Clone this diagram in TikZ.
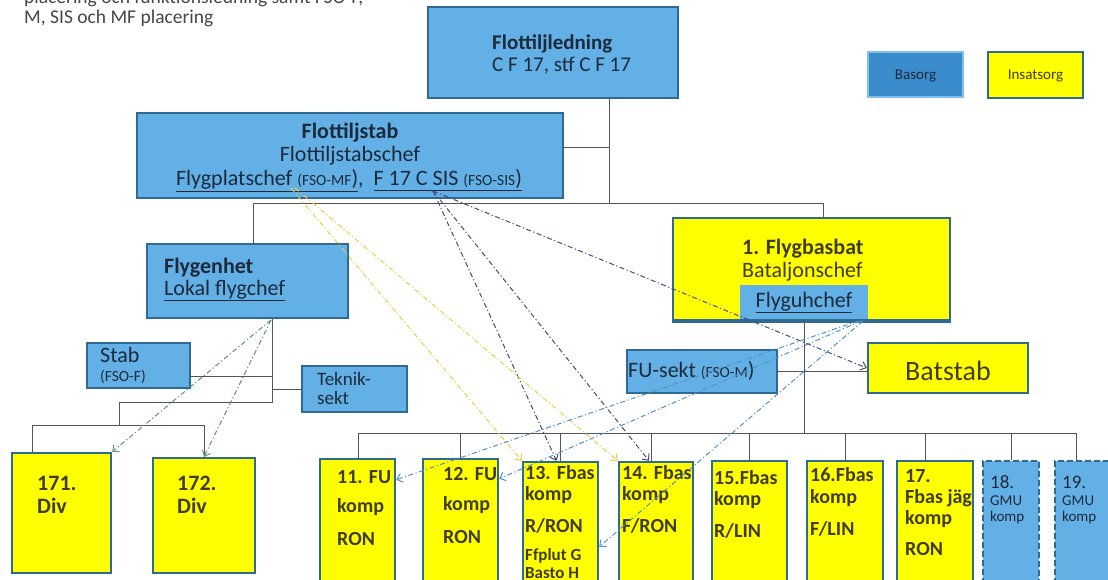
\documentclass[tikz,border=0pt]{standalone}
\usepackage{fontspec}
\setmainfont{Carlito}
\usetikzlibrary{arrows.meta,calc}
\definecolor{boxblue}{RGB}{98,176,230}
\definecolor{bordblue}{RGB}{46,106,146}
\definecolor{legblue}{RGB}{58,140,204}
\definecolor{leglight}{RGB}{130,192,236}
\definecolor{yel}{RGB}{255,255,0}
\definecolor{bluetxt}{RGB}{28,42,58}
\definecolor{yeltxt}{RGB}{64,60,20}
\definecolor{conncol}{RGB}{85,85,85}
\definecolor{sisarr}{RGB}{72,72,130}
\definecolor{mfarr}{RGB}{240,205,70}
\definecolor{uharr}{RGB}{80,145,200}
\definecolor{fgarr}{RGB}{90,150,110}
\definecolor{titlegrey}{RGB}{70,70,70}
\newcommand{\fsz}[1]{\fontsize{#1}{#1}\selectfont}
\newcommand{\smc}[1]{{\fsz{15.5}#1}}
\begin{document}
\begin{tikzpicture}[x=1pt,y=-1pt,
  bluebox/.style={draw=bordblue, line width=2.5pt, fill=boxblue, inner sep=0pt},
  yelbox/.style={draw=bordblue, line width=2.5pt, fill=yel, inner sep=0pt},
  gmubox/.style={draw=bordblue, line width=2.5pt, fill=boxblue, inner sep=0pt, dash pattern=on 6pt off 3pt},
  conn/.style={draw=conncol, line width=0.9pt},
  dd/.style={line width=1pt, dash pattern=on 5pt off 2.5pt on 1.2pt off 2.5pt, -{Straight Barb[length=5pt,width=9pt]}},
  lbl/.style={inner sep=0pt, anchor=base west},
  lblc/.style={inner sep=0pt, anchor=base},
  bt/.style={lbl, text=bluetxt, font=\fsz{22}},
  yt/.style={lbl, text=yeltxt, font=\fsz{20}\bfseries},
]
\useasboundingbox (0,0) rectangle (1108,580);
\clip (0,0) rectangle (1108,580);

% title
\node[lbl, text=titlegrey, font=\fsz{19.5}] (title1) at (24,4) {placering och funktionsledning samt FSO-F,};
\node[lbl, text=titlegrey, font=\fsz{19.5}] (title2) at (24,24) {M, SIS och MF placering};

% legend
\node[draw=leglight, line width=2pt, fill=legblue, minimum width=95pt, minimum height=45pt, inner sep=0pt] (leg1) at (915.5,74.5) {};
\node[lblc, text=bluetxt, font=\fsz{15}] (leg1t) at (915.5,80) {Basorg};
\node[yelbox, minimum width=95pt, minimum height=46pt] (leg2) at (1035.5,75) {};
\node[lblc, text=yeltxt, font=\fsz{15}] (leg2t) at (1035.5,80) {Insatsorg};

% boxes
\node[bluebox, minimum width=250pt, minimum height=91pt] (fl) at (553,52.5) {};
\node[bluebox, minimum width=426pt, minimum height=85pt] (fst) at (350,155.5) {};
\node[bluebox, minimum width=201pt, minimum height=74pt] (fg) at (247.5,281) {};
\node[yelbox, minimum width=277pt, minimum height=102pt] (fb) at (811.5,269) {};
\node[fill=boxblue, minimum width=128pt, minimum height=34pt, inner sep=0pt] (fu) at (804,302) {};
\draw[bordblue, line width=2.5pt] (fb.south west) -- (fb.south east);
\node[bluebox, minimum width=103pt, minimum height=45pt] (stab) at (138.5,365.5) {};
\node[bluebox, minimum width=105pt, minimum height=46pt] (tek) at (354.5,389) {};
\node[bluebox, minimum width=150pt, minimum height=43pt] (fus) at (702,371.5) {};
\node[yelbox, minimum width=160pt, minimum height=50pt] (bs) at (948,368) {};
\node[yelbox, minimum width=99pt, minimum height=120pt] (b171) at (61.5,513) {};
\node[yelbox, minimum width=102pt, minimum height=115pt] (b172) at (204,515.5) {};
\node[yelbox, minimum width=75pt, minimum height=151pt] (b11) at (357.5,534.5) {};
\node[yelbox, minimum width=75pt, minimum height=151pt] (b12) at (460.5,534.5) {};
\node[yelbox, minimum width=75pt, minimum height=148pt] (b13) at (560.5,536) {};
\node[yelbox, minimum width=74pt, minimum height=148pt] (b14) at (656,536) {};
\node[yelbox, minimum width=75pt, minimum height=149pt] (b15) at (749.5,535.5) {};
\node[yelbox, minimum width=76pt, minimum height=149pt] (b16) at (845,535.5) {};
\node[yelbox, minimum width=76pt, minimum height=149pt] (b17) at (935,535.5) {};
\node[gmubox, minimum width=56pt, minimum height=149pt] (b18) at (1011,535.5) {};
\node[gmubox, minimum width=56pt, minimum height=149pt] (b19) at (1083,535.5) {};

% texts
\node[lbl, text=bluetxt, font=\fsz{21}\bfseries] (flt1) at (492,50) {Flottiljledning};
\node[lbl, text=bluetxt, font=\fsz{21}] (flt2) at (492,72) {C F 17, stf C F 17};
\node[lblc, text=bluetxt, font=\fsz{22}\bfseries] (fst1) at (350,139) {Flottiljstab};
\node[lblc, text=bluetxt, font=\fsz{22}] (fst2) at (350,162) {Flottiljstabschef};
\node[lblc, text=bluetxt, font=\fsz{22}] (fst3) at (349,186) {\underline{Flygplatschef \smc{(FSO-MF})},\ \ \underline{F 17 C SIS \smc{(FSO-SIS})}};
\node[bt, font=\fsz{22}\bfseries] (fgt1) at (164,273) {Flygenhet};
\node[bt] (fgt2) at (164,295) {\underline{Lokal flygchef}};
\node[lbl, text=yeltxt, font=\fsz{22}\bfseries] (fbt1) at (742,254) {1. Flygbasbat};
\node[lbl, text=yeltxt, font=\fsz{22}] (fbt2) at (742,277) {Bataljonschef};
\node[lblc, text=bluetxt, font=\fsz{22}] (fut) at (804,307) {\underline{Flyguhchef}};
\node[bt] (stt1) at (100,362) {Stab};
\node[lbl, text=bluetxt, font=\fsz{15.5}] (stt2) at (100,381) {(FSO-F)};
\node[bt, font=\fsz{19}] (tkt1) at (317,385) {Teknik-};
\node[bt, font=\fsz{19}] (tkt2) at (317,404) {sekt};
\node[bt] (fust) at (628,377) {FU-sekt \smc{(FSO-M})};
\node[lblc, text=yeltxt, font=\fsz{28}] (bst) at (948,380) {Batstab};

\node[yt, font=\fsz{22}\bfseries] (t171a) at (37,490) {171.};
\node[yt, font=\fsz{22}\bfseries] (t171b) at (37,513) {Div};
\node[yt, font=\fsz{22}\bfseries] (t172a) at (177,490) {172.};
\node[yt, font=\fsz{22}\bfseries] (t172b) at (177,513) {Div};

\node[yt] (t11a) at (337,483) {11. FU};
\node[yt] (t11b) at (337,512) {komp};
\node[yt] (t11c) at (337,545) {RON};
\node[yt] (t12a) at (443,480) {12. FU};
\node[yt] (t12b) at (443,510) {komp};
\node[yt] (t12c) at (443,543) {RON};
\node[yt] (t13a) at (525,479) {13. Fbas};
\node[yt] (t13b) at (525,500) {komp};
\node[yt] (t13c) at (525,532) {R/RON};
\node[yt, font=\fsz{17}\bfseries] (t13d) at (525,560) {Ffplut G};
\node[yt, font=\fsz{17}\bfseries] (t13e) at (525,578) {Basto H};
\node[yt] (t14a) at (622,479) {14. Fbas};
\node[yt] (t14b) at (622,500) {komp};
\node[yt] (t14c) at (622,532) {F/RON};
\node[yt] (t15a) at (714,484) {15.Fbas};
\node[yt] (t15b) at (714,505) {komp};
\node[yt] (t15c) at (714,537) {R/LIN};
\node[yt] (t16a) at (810,481) {16.Fbas};
\node[yt] (t16b) at (810,503) {komp};
\node[yt] (t16c) at (810,535) {F/LIN};
\node[yt] (t17a) at (905,482) {17.};
\node[yt] (t17b) at (905,503) {Fbas jäg};
\node[yt] (t17c) at (905,524) {komp};
\node[yt] (t17d) at (905,555) {RON};
\node[bt, font=\fsz{19}] (t18a) at (990,488) {18.};
\node[bt, font=\fsz{15}] (t18b) at (990,505) {GMU};
\node[bt, font=\fsz{15}] (t18c) at (990,521) {komp};
\node[bt, font=\fsz{19}] (t19a) at (1062,488) {19.};
\node[bt, font=\fsz{15}] (t19b) at (1062,505) {GMU};
\node[bt, font=\fsz{15}] (t19c) at (1062,521) {komp};

% tree connectors
\coordinate (j1) at (609,203);
\coordinate (busA) at (253,203);
\coordinate (busB) at (823,203);
\draw[conn] (fl.south -| j1) -- (j1);
\draw[conn] ([yshift=8.5pt]fst.east) -- ([yshift=8.5pt]fst.east -| j1);
\draw[conn] (busA |- fg.north) -- (busA) -- (busB) -- (busB |- fb.north);

\coordinate (fgv) at (272,402);
\coordinate (lj) at (119,402);
\coordinate (lb) at (119,425);
\coordinate (lbL) at (32,425);
\coordinate (lbR) at (204,425);
\draw[conn] (fgv |- fg.south) -- (fgv) -- (lj) -- (lb);
\draw[conn] ([yshift=-10.5pt]stab.east) -- ([yshift=-10.5pt]stab.east -| fgv);
\draw[conn] (tek.west) -- (tek.west -| fgv);
\draw[conn] (lbL |- b171.north) -- (lbL) -- (lbR) -- (b172.north);

\coordinate (rb) at (804,433);
\coordinate (rbL) at (358,433);
\coordinate (rbR) at (1076,433);
\draw[conn] (fu.south) -- (rb);
\draw[conn] (fus.east) -- (fus.east -| bs.west);
\draw[conn] (rbL |- b11.north) -- (rbL) -- (rbR) -- (rbR |- b19.north);
\draw[conn] (b12.north) -- (b12.north |- rb);
\draw[conn] (b13.north) -- (b13.north |- rb);
\draw[conn] ([xshift=-5pt]b14.north) -- ([xshift=-5pt]b14.north |- rb);
\draw[conn] (b15.north) -- (b15.north |- rb);
\draw[conn] (b16.north) -- (b16.north |- rb);
\draw[conn] ([xshift=-10pt]b17.north) -- ([xshift=-10pt]b17.north |- rb);
\draw[conn] (b18.north) -- (b18.north |- rb);

% function arrows
\coordinate (sis) at (433,191);
\coordinate (mf) at (291,188);
\coordinate (uh) at (858,321);
\coordinate (fgo) at (271,320);
\draw[dd, sisarr] (sis) -- ([xshift=-4pt]b13.north);
\draw[dd, sisarr] (sis) -- ([xshift=-7pt]b14.north);
\draw[dd, sisarr] (sis) -- (bs.west);
\draw[dd, mfarr] (mf) -- (b13.north west);
\draw[dd, mfarr] ([xshift=4pt]mf) -- (b14.north west);
\draw[dd, uharr] (uh) -- ([yshift=-22pt]b11.north east);
\draw[dd, uharr] ([xshift=3pt]uh) -- ([yshift=-21pt]b12.north east);
\draw[dd, uharr] ([xshift=5pt]uh) -- ([yshift=-86pt]b13.north east);
\draw[dd, fgarr] (fgo) -- (b171.north east);
\draw[dd, fgarr] (fgo) -- (b172.north);
\end{tikzpicture}
\end{document}
